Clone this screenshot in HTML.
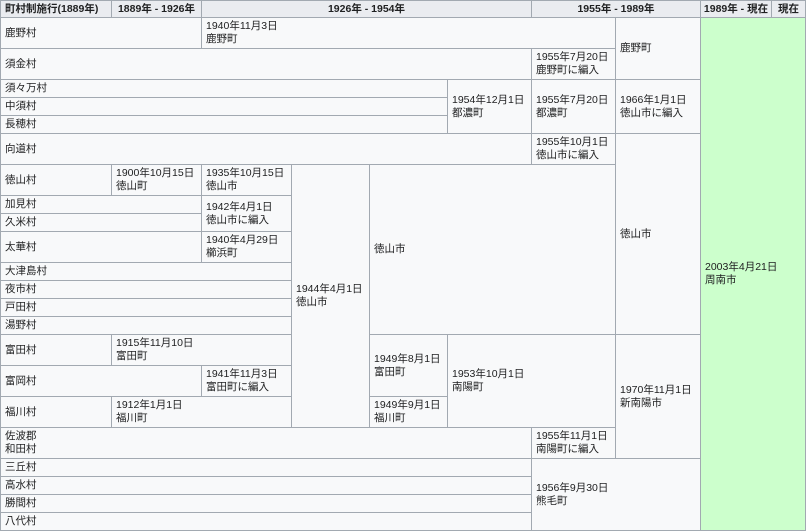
<!DOCTYPE html>
<html><head><meta charset="utf-8"><style>
html,body{margin:0;padding:0;background:#fff;width:806px;height:531px;overflow:hidden}
.c{position:absolute;box-sizing:border-box;border:1px solid #a2a9b1;background:#f8f9fa;color:#202122;
font-family:"Liberation Sans","Noto Sans CJK JP",sans-serif;font-size:10.5px;line-height:13px;
display:flex;align-items:center;padding:0 4px;white-space:nowrap;overflow:hidden}
.h{background:#eaecf0;font-weight:bold;justify-content:center}
.g{background:#ccffcc}
</style></head><body>
<div class="c h" style="left:0;top:0;width:112px;height:18px;justify-content:flex-start">町村制施行(1889年)</div>
<div class="c h" style="left:111px;top:0;width:91px;height:18px">1889年 - 1926年</div>
<div class="c h" style="left:201px;top:0;width:331px;height:18px">1926年 - 1954年</div>
<div class="c h" style="left:531px;top:0;width:170px;height:18px">1955年 - 1989年</div>
<div class="c h" style="left:700px;top:0;width:72px;height:18px">1989年 - 現在</div>
<div class="c h" style="left:771px;top:0;width:35px;height:18px">現在</div>

<div class="c" style="left:0;top:17px;width:202px;height:32px">鹿野村</div>
<div class="c" style="left:201px;top:17px;width:415px;height:32px">1940年11月3日<br>鹿野町</div>
<div class="c" style="left:0;top:48px;width:532px;height:32px">須金村</div>
<div class="c" style="left:531px;top:48px;width:85px;height:32px">1955年7月20日<br>鹿野町に編入</div>
<div class="c" style="left:615px;top:17px;width:86px;height:63px">鹿野町</div>

<div class="c" style="left:0;top:79px;width:448px;height:19px">須々万村</div>
<div class="c" style="left:0;top:97px;width:448px;height:19px">中須村</div>
<div class="c" style="left:0;top:115px;width:448px;height:19px">長穂村</div>
<div class="c" style="left:447px;top:79px;width:85px;height:55px">1954年12月1日<br>都濃町</div>
<div class="c" style="left:531px;top:79px;width:85px;height:55px">1955年7月20日<br>都濃町</div>
<div class="c" style="left:615px;top:79px;width:86px;height:55px">1966年1月1日<br>徳山市に編入</div>

<div class="c" style="left:0;top:133px;width:532px;height:32px">向道村</div>
<div class="c" style="left:531px;top:133px;width:85px;height:32px">1955年10月1日<br>徳山市に編入</div>
<div class="c" style="left:615px;top:133px;width:86px;height:202px">徳山市</div>

<div class="c" style="left:0;top:164px;width:112px;height:32px">徳山村</div>
<div class="c" style="left:111px;top:164px;width:91px;height:32px">1900年10月15日<br>徳山町</div>
<div class="c" style="left:201px;top:164px;width:91px;height:32px">1935年10月15日<br>徳山市</div>
<div class="c" style="left:291px;top:164px;width:79px;height:264px">1944年4月1日<br>徳山市</div>
<div class="c" style="left:369px;top:164px;width:247px;height:171px">徳山市</div>

<div class="c" style="left:0;top:195px;width:202px;height:19px">加見村</div>
<div class="c" style="left:0;top:213px;width:202px;height:19px">久米村</div>
<div class="c" style="left:201px;top:195px;width:91px;height:37px">1942年4月1日<br>徳山市に編入</div>
<div class="c" style="left:0;top:231px;width:202px;height:32px">太華村</div>
<div class="c" style="left:201px;top:231px;width:91px;height:32px">1940年4月29日<br>櫛浜町</div>
<div class="c" style="left:0;top:262px;width:292px;height:19px">大津島村</div>
<div class="c" style="left:0;top:280px;width:292px;height:19px">夜市村</div>
<div class="c" style="left:0;top:298px;width:292px;height:19px">戸田村</div>
<div class="c" style="left:0;top:316px;width:292px;height:19px">湯野村</div>

<div class="c" style="left:0;top:334px;width:112px;height:32px">富田村</div>
<div class="c" style="left:111px;top:334px;width:181px;height:32px">1915年11月10日<br>富田町</div>
<div class="c" style="left:0;top:365px;width:202px;height:32px">富岡村</div>
<div class="c" style="left:201px;top:365px;width:91px;height:32px">1941年11月3日<br>富田町に編入</div>
<div class="c" style="left:0;top:396px;width:112px;height:32px">福川村</div>
<div class="c" style="left:111px;top:396px;width:181px;height:32px">1912年1月1日<br>福川町</div>
<div class="c" style="left:369px;top:334px;width:79px;height:63px">1949年8月1日<br>富田町</div>
<div class="c" style="left:369px;top:396px;width:79px;height:32px">1949年9月1日<br>福川町</div>
<div class="c" style="left:447px;top:334px;width:169px;height:94px">1953年10月1日<br>南陽町</div>
<div class="c" style="left:615px;top:334px;width:86px;height:125px">1970年11月1日<br>新南陽市</div>

<div class="c" style="left:0;top:427px;width:532px;height:32px">佐波郡<br>和田村</div>
<div class="c" style="left:531px;top:427px;width:85px;height:32px">1955年11月1日<br>南陽町に編入</div>
<div class="c" style="left:0;top:458px;width:532px;height:19px">三丘村</div>
<div class="c" style="left:0;top:476px;width:532px;height:19px">高水村</div>
<div class="c" style="left:0;top:494px;width:532px;height:19px">勝間村</div>
<div class="c" style="left:0;top:512px;width:532px;height:19px">八代村</div>
<div class="c" style="left:531px;top:458px;width:170px;height:73px">1956年9月30日<br>熊毛町</div>

<div class="c g" style="left:700px;top:17px;width:106px;height:514px">2003年4月21日<br>周南市</div>
</body></html>
